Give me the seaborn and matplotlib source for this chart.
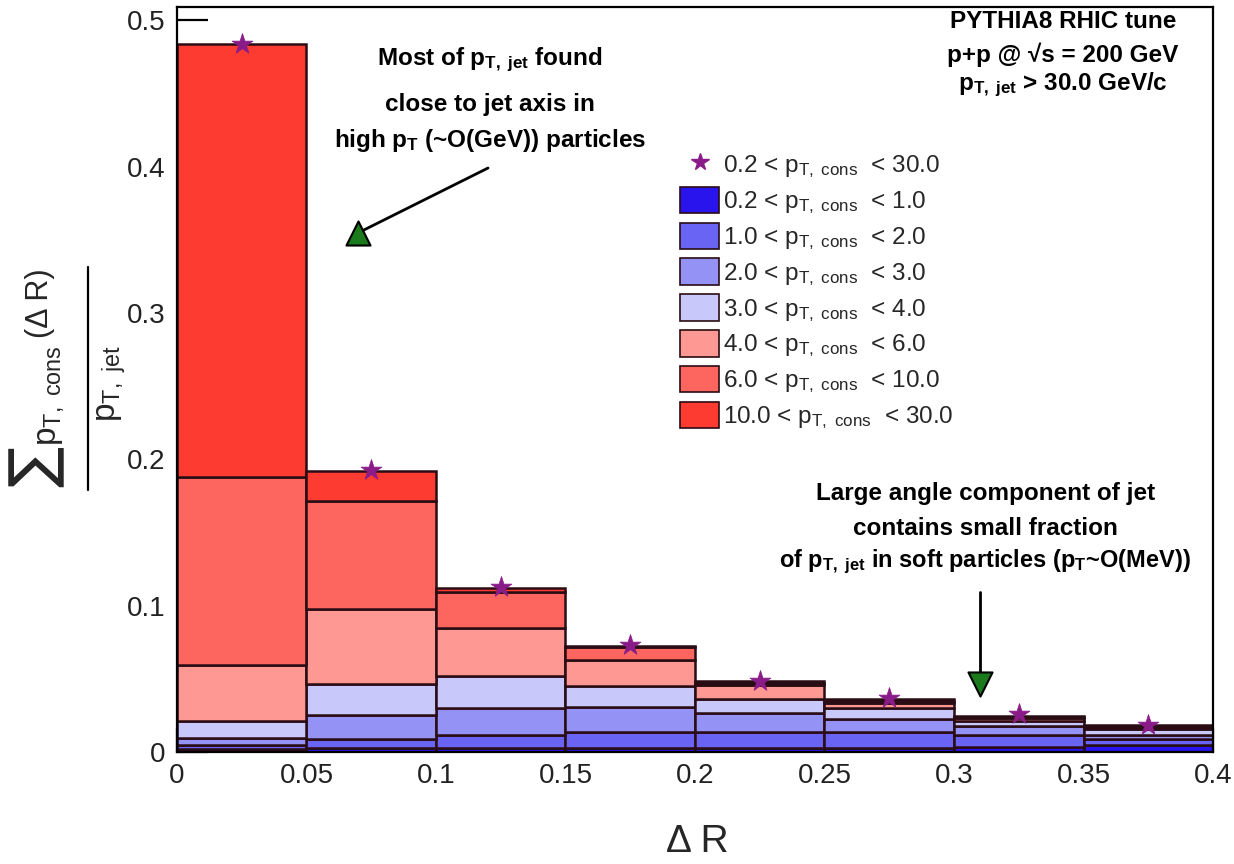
import numpy as np
import pandas as pd
import matplotlib
matplotlib.use("Agg")
import matplotlib.pyplot as plt
import seaborn as sns
from matplotlib.patches import Patch
from matplotlib.lines import Line2D
from matplotlib.ticker import MultipleLocator, FixedLocator, FixedFormatter

# ---------------- data ----------------
bin_edges = [0.0, 0.05, 0.10, 0.15, 0.20, 0.25, 0.30, 0.35, 0.40]
bin_centers = [0.025, 0.075, 0.125, 0.175, 0.225, 0.275, 0.325, 0.375]

layer_names = ["0.2-1.0", "1.0-2.0", "2.0-3.0", "3.0-4.0", "4.0-6.0", "6.0-10.0", "10.0-30.0"]
layer_lo = ["0.2", "1.0", "2.0", "3.0", "4.0", "6.0", "10.0"]
layer_hi = ["1.0", "2.0", "3.0", "4.0", "6.0", "10.0", "30.0"]

frac_0p2_1 = [0.0020, 0.0030, 0.0030, 0.0030, 0.0030, 0.0030, 0.0035, 0.0048]
frac_1_2 = [0.0025, 0.0059, 0.0086, 0.0109, 0.0109, 0.0104, 0.0079, 0.0041]
frac_2_3 = [0.0053, 0.0162, 0.0187, 0.0166, 0.0125, 0.0091, 0.0061, 0.0027]
frac_3_4 = [0.0114, 0.0211, 0.0216, 0.0146, 0.0098, 0.0073, 0.0040, 0.0039]
frac_4_6 = [0.0382, 0.0515, 0.0326, 0.0177, 0.0096, 0.0035, 0.0017, 0.0017]
frac_6_10 = [0.1286, 0.0737, 0.0245, 0.0087, 0.0012, 0.0019, 0.0009, 0.0007]
frac_10_30 = [0.2960, 0.0206, 0.0032, 0.0009, 0.0012, 0.0010, 0.0007, 0.0005]

total_0p2_30 = [0.484, 0.193, 0.113, 0.073, 0.0485, 0.0367, 0.0257, 0.0184]

layer_colors = ["#2a14ee", "#6a64f4", "#9592f6", "#c9c8fa", "#fe9892", "#fd665f", "#fe3b31"]

x_tick_vals = [0, 0.05, 0.1, 0.15, 0.2, 0.25, 0.3, 0.35, 0.4]
x_tick_labels = ["0", "0.05", "0.1", "0.15", "0.2", "0.25", "0.3", "0.35", "0.4"]
y_tick_vals = [0, 0.1, 0.2, 0.3, 0.4, 0.5]
y_tick_labels = ["0", "0.1", "0.2", "0.3", "0.4", "0.5"]

# ---------------- style ----------------
sns.set_theme(style="ticks")
plt.rcParams["font.family"] = ["Liberation Sans", "DejaVu Sans"]
plt.rcParams["mathtext.fontset"] = "custom"
plt.rcParams["mathtext.rm"] = "Liberation Sans"
plt.rcParams["mathtext.it"] = "Liberation Sans"
plt.rcParams["mathtext.bf"] = "Liberation Sans:bold"
plt.rcParams["mathtext.sf"] = "Liberation Sans"

all_layers = [frac_0p2_1, frac_1_2, frac_2_3, frac_3_4, frac_4_6, frac_6_10, frac_10_30]
rows = []
for name, vals in zip(layer_names, all_layers):
    for c, v in zip(bin_centers, vals):
        rows.append({"dR": c, "frac": v, "layer": name})
df = pd.DataFrame(rows)

palette = dict(zip(layer_names, layer_colors))

W, H = 1234, 864
fig = plt.figure(figsize=(W / 100, H / 100), dpi=100)
ax = fig.add_axes([0.1434, 0.1296, 0.8396, 0.8623])

edge = "#2a0c14"
sns.histplot(data=df, x="dR", weights="frac", hue="layer",
             hue_order=layer_names[::-1], multiple="stack",
             bins=bin_edges, element="bars", palette=palette,
             alpha=1.0, edgecolor=edge, linewidth=1.8, legend=False, ax=ax)

star_col = "#8a1c8a"
sns.scatterplot(x=bin_centers, y=total_0p2_30, marker="*", s=250,
                color=star_col, edgecolor=star_col, linewidth=0.5, zorder=6, ax=ax)

# ---------------- axes ----------------
ax.set_xlim(0, 0.4)
ax.set_ylim(0, 0.509)
ax.xaxis.set_major_locator(FixedLocator(x_tick_vals))
ax.xaxis.set_major_formatter(FixedFormatter(x_tick_labels))
ax.yaxis.set_major_locator(FixedLocator(y_tick_vals))
ax.yaxis.set_major_formatter(FixedFormatter(y_tick_labels))
ax.xaxis.set_minor_locator(MultipleLocator(0.01))
ax.yaxis.set_minor_locator(MultipleLocator(0.02))
ax.tick_params(axis="both", which="both", direction="in", colors="black",
               labelsize=20, width=1.6)
ax.tick_params(axis="x", which="major", length=17, pad=8)
ax.tick_params(axis="x", which="minor", length=9)
ax.tick_params(axis="y", which="major", length=22, pad=8)
ax.tick_params(axis="y", which="minor", length=11)
for sp in ax.spines.values():
    sp.set_color("black")
    sp.set_linewidth(1.6)
    sp.set_visible(True)
for t in ax.get_xticklabels() + ax.get_yticklabels():
    t.set_color("#222222")

ax.set_xlabel("Δ R", fontsize=28)
ax.xaxis.set_label_coords(0.502, -0.097)
ax.set_ylabel("")

# y-axis title built as in the reference: big sum sign, fraction
def fx(px):
    return px / W

def fy(py):
    return 1 - py / H

fig.text(fx(36), fy(466), "∑", fontsize=44, rotation=90, ha="center", va="center",
         family=["DejaVu Sans"])
fig.text(fx(50), fy(396), r"p$_{\mathrm{T,\ cons}}$", fontsize=24, rotation=90,
         ha="center", va="center")
fig.text(fx(40), fy(303), "(Δ R)", fontsize=22, rotation=90, ha="center", va="center")
fig.add_artist(Line2D([fx(88), fx(88)], [fy(267), fy(490)], color="black", lw=1.6))
fig.text(fx(112), fy(384), r"p$_{\mathrm{T,\ jet}}$", fontsize=24, rotation=90,
         ha="center", va="center")

# ---------------- legend ----------------
handles = [Line2D([], [], marker="*", color=star_col, linestyle="none", markersize=13)]
labels = [r"0.2 < p$_{\mathrm{T,\ cons}}$  < 30.0"]
for name, lo, hi, col in zip(layer_names, layer_lo, layer_hi, layer_colors):
    handles.append(Patch(facecolor=col, edgecolor=edge, linewidth=1.2))
    labels.append(lo + r" < p$_{\mathrm{T,\ cons}}$  < " + hi)
ax.legend(handles, labels, loc="upper left", bbox_to_anchor=(0.4765, 0.820),
          frameon=False, fontsize=17.5, handlelength=1.6, handleheight=1.3,
          labelspacing=0.27, handletextpad=0.15, borderaxespad=0)

# ---------------- annotations ----------------
bold = dict(fontsize=17.5, fontweight="bold", ha="center", va="center", color="black")
ax.text(0.1208, 0.4727, r"Most of $\mathbf{p}_{\mathbf{T,\ jet}}$ found", **bold)
ax.text(0.1208, 0.4426, "close to jet axis in", **bold)
ax.text(0.1208, 0.4180, r"high $\mathbf{p}_{\mathbf{T}}$ (~O(GeV)) particles", **bold)

ax.text(0.342, 0.4993, "PYTHIA8 RHIC tune", **bold)
ax.text(0.342, 0.4765, "p+p @ √s = 200 GeV", **bold)
ax.text(0.342, 0.4556, r"$\mathbf{p}_{\mathbf{T,\ jet}}$ > 30.0 GeV/c", **bold)

ax.text(0.312, 0.1769, "Large angle component of jet", **bold)
ax.text(0.312, 0.1530, "contains small fraction", **bold)
ax.text(0.312, 0.1298, r"of $\mathbf{p}_{\mathbf{T,\ jet}}$ in soft particles ($\mathbf{p}_{\mathbf{T}}$~O(MeV))",
        fontsize=17, fontweight="bold", ha="center", va="center", color="black")

green = "#1b7a1b"
ax.plot([0.1201, 0.0720], [0.399, 0.3565], color="black", lw=2.0, zorder=7)
ax.scatter([0.0699], [0.3545], marker="^", s=300, color=green, edgecolor="black",
           linewidth=1.5, zorder=8)
ax.plot([0.310, 0.310], [0.1093, 0.050], color="black", lw=2.0, zorder=7)
ax.scatter([0.310], [0.0464], marker="v", s=300, color=green, edgecolor="black",
           linewidth=1.5, zorder=8)

fig.savefig("out.png", dpi=100)
